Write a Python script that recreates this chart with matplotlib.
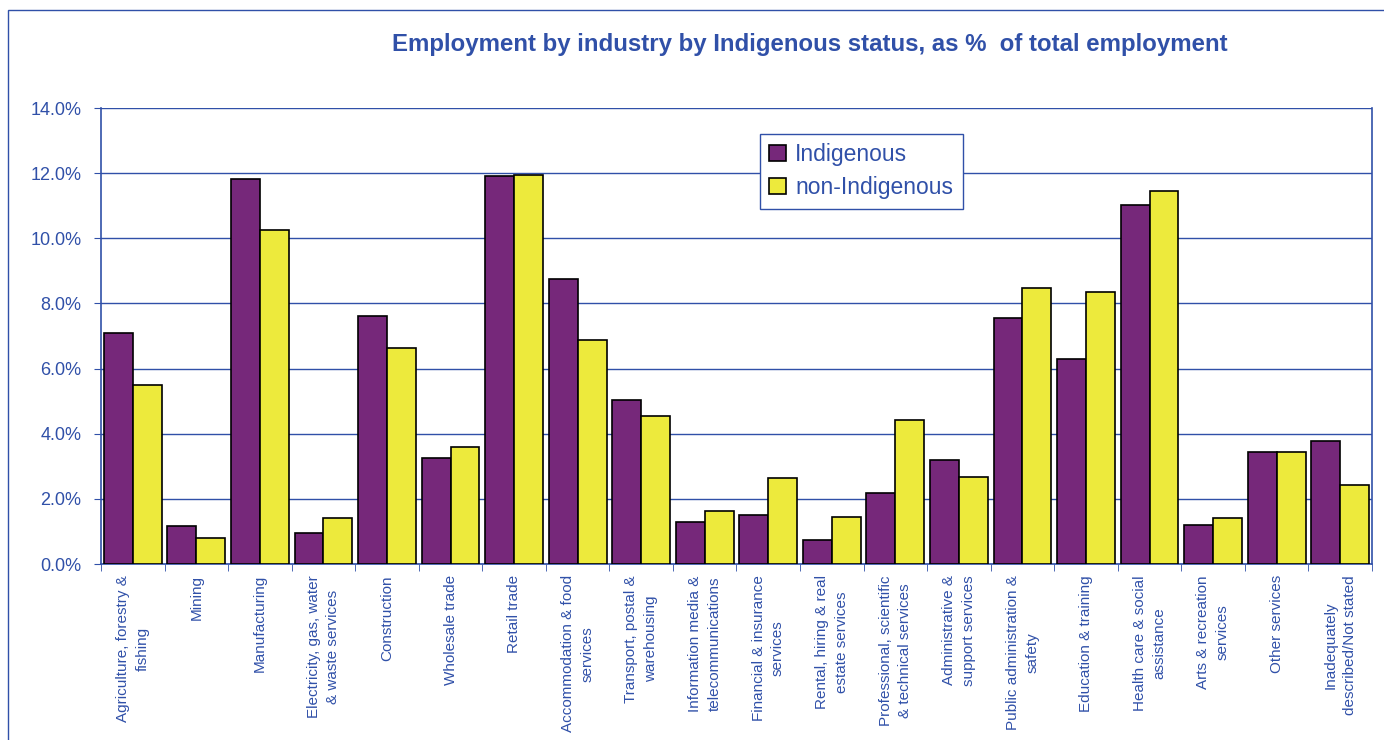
import numpy as np
import matplotlib
matplotlib.use("Agg")
import matplotlib.pyplot as plt
from matplotlib.patches import Rectangle
from matplotlib.ticker import FuncFormatter, FixedLocator

# Datos (porcentaje del empleo total)
industrias = [
    "Agriculture, forestry &\nfishing",
    "Mining",
    "Manufacturing",
    "Electricity, gas, water\n& waste services",
    "Construction",
    "Wholesale trade",
    "Retail trade",
    "Accommodation & food\nservices",
    "Transport, postal &\nwarehousing",
    "Information media &\ntelecommunications",
    "Financial & insurance\nservices",
    "Rental, hiring & real\nestate services",
    "Professional, scientific\n& technical services",
    "Administrative &\nsupport services",
    "Public administration &\nsafety",
    "Education & training",
    "Health care & social\nassistance",
    "Arts & recreation\nservices",
    "Other services",
    "Inadequately\ndescribed/Not stated",
]
indigenas = [7.10, 1.18, 11.82, 0.95, 7.63, 3.24, 11.91, 8.75, 5.05, 1.29,
             1.50, 0.74, 2.17, 3.18, 7.55, 6.30, 11.02, 1.19, 3.43, 3.79]
no_indigenas = [5.51, 0.79, 10.27, 1.41, 6.63, 3.58, 11.94, 6.88, 4.56, 1.63,
                2.63, 1.43, 4.43, 2.67, 8.47, 8.35, 11.45, 1.42, 3.43, 2.42]
y_ticks = [0, 2, 4, 6, 8, 10, 12, 14]

azul = "#3050A8"
morado = "#76287A"
amarillo = "#EDEA3C"

plt.rcParams["font.family"] = ["Liberation Sans", "DejaVu Sans"]

fig = plt.figure(figsize=(13.84, 7.4), dpi=100)
ax = fig.add_axes([0.073, 0.2378, 0.9183, 0.6162])

x = np.arange(len(industrias))
w = 0.455
ax.bar(x - w, indigenas, width=w, align="edge", color=morado,
       edgecolor="black", linewidth=1.2, label="Indigenous", zorder=3)
ax.bar(x, no_indigenas, width=w, align="edge", color=amarillo,
       edgecolor="black", linewidth=1.2, label="non-Indigenous", zorder=3)

ax.set_xlim(-0.5, len(industrias) - 0.5)
ax.set_ylim(0, 14)
ax.yaxis.set_major_locator(FixedLocator(y_ticks))
ax.yaxis.set_major_formatter(FuncFormatter(lambda v, p: f"{v:.1f}%"))
ax.grid(axis="y", color=azul, linewidth=1, zorder=0)

ax.set_xticks(x)
ax.set_xticklabels(industrias, rotation=90, ha="center", va="top",
                   multialignment="center", fontsize=11, color=azul,
                   linespacing=1.5)
ax.set_xticks(np.arange(-0.5, len(industrias)), minor=True)
ax.tick_params(axis="x", which="major", length=0, pad=8)
ax.tick_params(axis="x", which="minor", length=5, color=azul, direction="out")
ax.tick_params(axis="y", length=5, color=azul, labelcolor=azul,
               labelsize=13, pad=9)

for lado in ["left", "right", "bottom"]:
    ax.spines[lado].set_color(azul)
    ax.spines[lado].set_linewidth(1.2)
ax.spines["top"].set_visible(False)

leg = ax.legend(loc="upper left", bbox_to_anchor=(0.549, 0.819),
                bbox_transform=fig.transFigure, fontsize=16.5, frameon=True,
                fancybox=False, framealpha=1, edgecolor=azul,
                borderaxespad=0, handlelength=0.75, handleheight=0.7,
                handletextpad=0.4, labelspacing=0.45, borderpad=0.4)
leg.get_frame().set_linewidth(1)
for t in leg.get_texts():
    t.set_color(azul)

fig.text(0.585, 0.9405, "Employment by industry by Indigenous status, as %  of total employment",
         ha="center", va="center", fontsize=17.3, fontweight="bold", color=azul)

# marco exterior del grafico
fig.add_artist(Rectangle((0.006, -0.1), 1.2, 1.0865, transform=fig.transFigure,
                         fill=False, edgecolor=azul, linewidth=1))

fig.savefig("out.png", dpi=100)
